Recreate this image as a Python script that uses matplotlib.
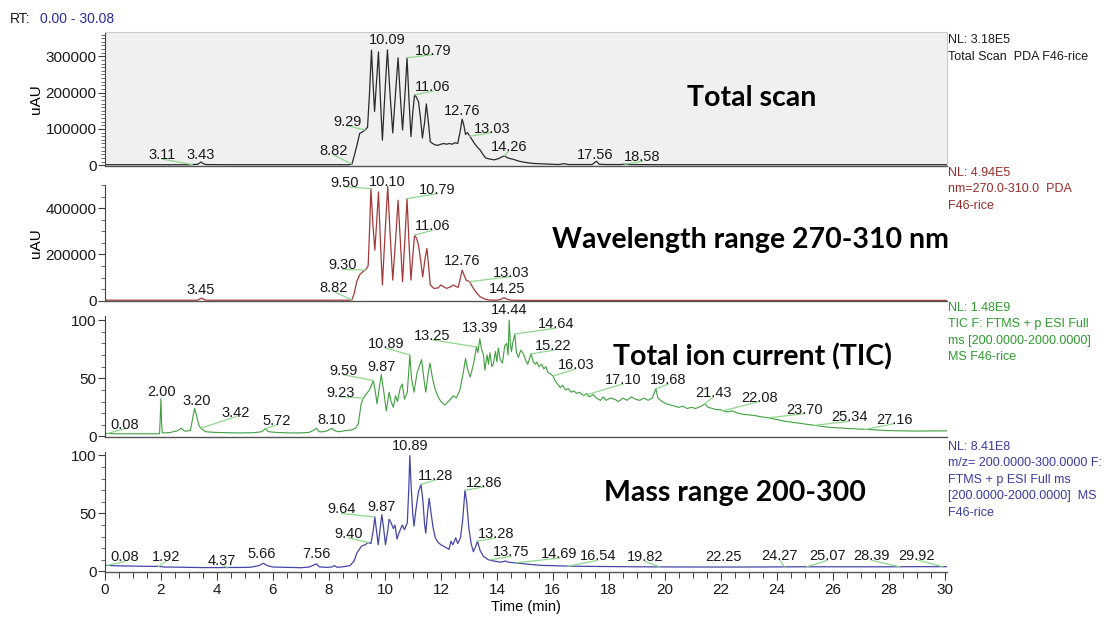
import matplotlib
matplotlib.use("Agg")
import matplotlib.pyplot as plt
from matplotlib.ticker import MultipleLocator, FixedLocator

plt.rcParams['font.family'] = ['Liberation Sans', 'DejaVu Sans']

# ---- panel 1: Total scan (uAU) ----
scan_t = [0, 1, 2, 3.0, 3.11, 3.3, 3.38, 3.43, 3.5, 3.6, 4.5, 6, 7, 8, 8.7, 8.82, 8.9, 9.0,
          9.1, 9.2, 9.29, 9.38, 9.45, 9.52, 9.58, 9.63, 9.7, 9.77, 9.84, 9.91, 10.0, 10.09,
          10.18, 10.28, 10.38, 10.47, 10.55, 10.63, 10.72, 10.79, 10.86, 10.93, 11.0, 11.06,
          11.12, 11.2, 11.27, 11.34, 11.42, 11.48, 11.55, 11.62, 11.7, 11.8, 11.9, 12.0, 12.1,
          12.2, 12.3, 12.4, 12.5, 12.6, 12.68, 12.76, 12.82, 12.88, 12.95, 13.03, 13.1, 13.2,
          13.3, 13.4, 13.5, 13.6, 13.75, 13.9, 14.05, 14.15, 14.26, 14.4, 14.6, 14.8, 15.0,
          15.3, 15.6, 15.9, 16.2, 16.35, 16.45, 16.55, 17.0, 17.4, 17.5, 17.56, 17.65, 17.9,
          18.4, 18.58, 18.8, 20, 30.08]
scan_v = [1.5, 1.5, 1.5, 1.5, 2, 2.5, 6, 9, 5, 2, 1.5, 1.5, 1.5, 1.5, 1.5, 3, 25, 55,
          88, 92, 97, 105, 200, 317, 220, 148, 230, 312, 180, 69, 200, 318,
          200, 89, 200, 296, 190, 97, 200, 296, 180, 79, 150, 194,
          188, 175, 130, 75, 120, 169, 120, 65, 60, 56, 55, 58, 60,
          58, 60, 58, 62, 60, 90, 127, 110, 85, 90, 80, 72, 60,
          50, 42, 30, 20, 17, 15, 18, 22, 26, 20, 16, 11, 8,
          5, 4, 3, 2, 4, 4, 2, 2, 2, 8, 11, 3, 2,
          2, 3, 2, 1.5, 1.5]  # x1000

# ---- panel 2: 270-310 nm (uAU) ----
uv_t = [0, 3.3, 3.4, 3.45, 3.52, 3.6, 8.7, 8.82, 8.9, 9.0, 9.1, 9.2, 9.3, 9.4, 9.45, 9.50,
        9.57, 9.64, 9.7, 9.77, 9.84, 9.91, 10.0, 10.10, 10.18, 10.28, 10.38, 10.47, 10.55,
        10.63, 10.72, 10.79, 10.86, 10.93, 11.0, 11.06, 11.13, 11.2, 11.28, 11.35, 11.43,
        11.50, 11.56, 11.62, 11.75, 11.9, 12.0, 12.1, 12.2, 12.35, 12.45, 12.55, 12.62, 12.7,
        12.76, 12.83, 12.9, 13.03, 13.1, 13.2, 13.3, 13.4, 13.55, 13.7, 14.0, 14.15, 14.25,
        14.35, 14.5, 15, 30.08]
uv_v = [2, 2, 8, 11, 6, 2, 2, 3, 30, 85, 112, 124, 132, 150, 300, 484,
        330, 218, 330, 470, 250, 68, 280, 494, 300, 89, 260, 434, 260,
        82, 280, 441, 250, 89, 200, 283, 270, 240, 170, 103, 180,
        226, 150, 68, 53, 55, 68, 60, 53, 60, 68, 60, 58, 100,
        132, 110, 89, 82, 65, 46, 30, 17, 8, 3, 2, 6, 13,
        7, 2, 1, 1]  # x1000

# ---- panel 3: TIC (%) ----
tic_t = [0.0, 0.08, 0.5, 1.0, 1.5, 1.95, 1.98, 2.00, 2.02, 2.05, 2.3, 2.6, 2.72, 2.85, 3.05,
         3.15, 3.20, 3.27, 3.35, 3.42, 3.6, 3.9, 4.3, 4.8, 5.3, 5.6, 5.72, 5.85, 6.2, 6.6,
         7.0, 7.3, 7.5, 7.56, 7.65, 7.8, 7.95, 8.10, 8.2, 8.35, 8.6, 8.8, 8.95, 9.05, 9.15,
         9.23, 9.35, 9.45, 9.59, 9.66, 9.72, 9.8, 9.87, 9.95, 10.05, 10.15, 10.22, 10.3,
         10.38, 10.45, 10.55, 10.62, 10.7, 10.8, 10.89, 10.95, 11.04, 11.15, 11.31, 11.4,
         11.46, 11.55, 11.61, 11.7, 11.8, 11.9, 12.0, 12.14, 12.3, 12.45, 12.55, 12.68, 12.8,
         12.88, 12.95, 13.05, 13.18, 13.27, 13.32, 13.39, 13.45, 13.52, 13.57, 13.65, 13.7,
         13.75, 13.82, 13.87, 13.95, 14.0, 14.05, 14.12, 14.2, 14.28, 14.35, 14.4, 14.44,
         14.48, 14.52, 14.58, 14.64, 14.7, 14.77, 14.85, 14.95, 15.02, 15.1, 15.18, 15.22,
         15.3, 15.38, 15.43, 15.5, 15.6, 15.68, 15.75, 15.82, 15.9, 16.0, 16.1, 16.2, 16.27,
         16.35, 16.45, 16.55, 16.65, 16.75, 16.85, 16.95, 17.1, 17.2, 17.3, 17.45, 17.55,
         17.7, 17.8, 17.9, 18.05, 18.2, 18.35, 18.5, 18.65, 18.8, 18.95, 19.1, 19.25, 19.4,
         19.55, 19.68, 19.75, 19.9, 20.05, 20.2, 20.35, 20.5, 20.65, 20.8, 20.95, 21.1, 21.3,
         21.43, 21.55, 21.7, 21.85, 22.0, 22.08, 22.25, 22.4, 22.6, 22.8, 23.0, 23.2, 23.4,
         23.7, 24.0, 24.3, 24.6, 24.9, 25.2, 25.5, 25.8, 26.1, 26.4, 26.8, 27.2, 27.6, 28.0,
         28.5, 29.0, 29.5, 30.0, 30.08]
tic_v = [2.0, 2.5, 2.2, 2.3, 2.2, 2.3, 20, 32.5, 12, 3, 3.2, 5, 7, 4.5, 5,
         18, 24, 18, 10, 7, 4, 3.5, 3.2, 3, 3.2, 4, 6.5, 4, 3.3, 3,
         3, 3.5, 6, 7, 4, 4, 5, 7, 5, 4, 5, 5.5, 7, 11, 28,
         33, 37, 40, 48, 38, 28, 42, 53, 40, 22, 38, 30, 25,
         35, 30, 42, 45, 32, 38, 70, 50, 38, 55, 66, 48,
         38, 55, 63, 50, 40, 34, 30, 27, 31, 35, 33, 40, 55,
         67, 58, 51, 64, 77, 72, 84, 75, 70, 57, 70, 62,
         72, 60, 62, 73, 64, 76, 66, 63, 78, 80, 70, 100,
         80, 73, 82, 88, 72, 68, 74, 71, 66, 62, 68, 71,
         64, 62, 64, 60, 62, 58, 60, 55, 54, 52, 47, 44, 42,
         44, 40, 41, 38, 39, 37, 38, 35, 37, 34, 36, 33,
         31, 34, 31, 33, 32, 30, 33, 31, 34, 32, 31, 33, 31,
         33, 41, 33, 30, 28, 27, 26, 25, 26, 24, 25, 24, 26,
         28, 25, 24, 23, 23, 22, 21, 22, 20, 19, 18.5, 18, 17,
         16, 14.5, 13, 12, 11, 10, 9, 8, 7.5, 7, 6.5, 6, 5.5, 5,
         4.8, 4.6, 4.7, 4.8, 4.8]

# ---- panel 4: m/z 200-300 (%) ----
mz_t = [0, 0.08, 0.5, 1.0, 1.5, 1.92, 2.1, 2.5, 3.0, 3.5, 4.0, 4.37, 4.8, 5.2, 5.5, 5.66,
        5.8, 6.0, 6.5, 7.0, 7.3, 7.5, 7.56, 7.65, 7.9, 8.1, 8.2, 8.3, 8.5, 8.75, 8.9, 9.0,
        9.17, 9.3, 9.4, 9.5, 9.58, 9.64, 9.7, 9.76, 9.82, 9.89, 9.95, 10.02, 10.1, 10.15,
        10.22, 10.3, 10.36, 10.43, 10.5, 10.62, 10.7, 10.8, 10.85, 10.89, 10.94, 11.0, 11.04,
        11.1, 11.2, 11.29, 11.36, 11.42, 11.46, 11.52, 11.58, 11.65, 11.72, 11.8, 11.9, 12.0,
        12.15, 12.29, 12.36, 12.43, 12.53, 12.6, 12.7, 12.78, 12.86, 12.92, 13.0, 13.08,
        13.16, 13.25, 13.31, 13.4, 13.52, 13.7, 13.88, 14.0, 14.15, 14.3, 14.4, 14.6, 14.82,
        15.2, 15.6, 16.0, 16.5, 17, 18, 19, 20, 21, 22, 23, 24, 25, 26, 27, 28, 29, 30.08]
mz_v = [5.0, 5.2, 4.8, 4.6, 4.4, 4.3, 3.8, 3.7, 3.5, 3.3, 3.3, 3.4, 3.4, 3.6, 5, 7,
        5, 3.8, 3.5, 3.2, 3.8, 6, 6.5, 4, 3.5, 3.8, 5, 3.5, 4, 5, 9, 16,
        22, 23, 25, 24, 35, 47, 35, 23, 35, 49, 38, 23, 35, 45,
        42, 37, 40, 28, 33, 40, 36, 42, 70, 100, 72, 48, 39,
        52, 69, 75, 60, 40, 33, 50, 63, 50, 38, 29, 25, 23,
        21, 19, 26, 23, 29, 24, 29, 45, 70, 60, 37, 24,
        17, 22, 26, 18, 13, 10, 9, 8.5, 8, 9, 8, 7.5, 7,
        6, 5.2, 5, 4.6, 4.4, 4.2, 4.0, 3.9, 3.8, 3.8, 3.8, 3.9, 4.0, 4.0, 4.0, 4.0, 4.1, 4.1]

# peak labels: text, retention time of the peak, height at the peak
scan_lab = ['3.11', '3.43', '8.82', '9.29', '10.09', '10.79', '11.06', '12.76', '13.03', '14.26', '17.56', '18.58']
scan_pk = [2, 9, 3, 97, 318, 296, 194, 127, 80, 26, 11, 3]
uv_lab = ['3.45', '8.82', '9.30', '9.50', '10.10', '10.79', '11.06', '12.76', '13.03', '14.25']
uv_pk = [11, 3, 132, 484, 494, 441, 283, 132, 82, 13]
tic_lab = ['0.08', '2.00', '3.20', '3.42', '5.72', '8.10', '9.23', '9.59', '9.87', '10.89', '13.25',
           '13.39', '14.44', '14.64', '15.22', '16.03', '17.10', '19.68', '21.43', '22.08', '23.70',
           '25.34', '27.16']
tic_pk = [2.5, 32.5, 24, 7, 6.5, 7, 33, 48, 53, 70, 77, 84, 100, 88, 71, 52, 35, 41, 28, 22, 16, 9.5, 6]
mz_lab = ['0.08', '1.92', '4.37', '5.66', '7.56', '9.40', '9.64', '9.87', '10.89', '11.28', '12.86',
          '13.28', '13.75', '14.69', '16.54', '19.82', '22.25', '24.27', '25.07', '28.39', '29.92']
mz_pk = [5.2, 4.3, 3.4, 7, 6.5, 25, 47, 49, 100, 75, 70, 26, 10, 7.5, 4.5, 3.9, 3.8, 3.9, 4.0, 4.0, 4.1]

# where the label text sits (centre x in min, baseline y in panel units)
scan_pos = [(2.04, 17), (3.4, 17), (8.18, 28), (8.66, 109), (10.09, 333), (11.74, 305), (11.72, 204),
            (12.77, 139), (13.82, 90), (14.43, 39), (17.5, 17), (19.2, 11)]
uv_pos = [(3.43, 29), (8.18, 39), (8.5, 135), (8.57, 493), (10.1, 497), (11.87, 463), (11.71, 305),
          (12.77, 154), (14.5, 104), (14.38, 32)]
tic_pos = [(0.71, 6.6), (2.01, 35), (3.29, 27), (4.68, 17), (6.14, 10), (8.11, 11), (8.43, 34),
           (8.52, 53), (9.89, 56), (10.03, 76), (11.68, 83), (13.41, 90), (14.45, 105), (16.1, 93),
           (16.02, 74), (16.82, 58), (18.5, 45), (20.13, 45), (21.73, 34), (23.38, 30), (25.0, 19.6),
           (26.6, 13), (28.2, 11)]
mz_pos = [(0.71, 8.6), (2.18, 8.6), (4.18, 5.8), (5.61, 11.5), (7.54, 11.5), (8.7, 29), (8.45, 50),
          (9.88, 52), (10.89, 105), (11.82, 79), (13.56, 73), (13.96, 29), (14.5, 13), (16.24, 11.5),
          (17.6, 9.5), (19.3, 8.6), (22.1, 8.6), (24.1, 10), (25.8, 9.5), (27.4, 9.5), (29.0, 10)]

W, H = 1108, 619
fig = plt.figure(figsize=(W / 100, H / 100), dpi=100)
fig.patch.set_facecolor('white')


def px_axes(top, bottom):
    return fig.add_axes([105 / W, 1 - bottom / H, 842 / W, (bottom - top) / H])


def style(ax, ylim, major, minor, bg='white'):
    ax.set_xlim(0, 30.08)
    ax.set_ylim(*ylim)
    ax.set_facecolor(bg)
    ax.yaxis.set_major_locator(FixedLocator(major))
    ax.yaxis.set_minor_locator(MultipleLocator(minor))
    ax.tick_params(axis='y', which='major', length=5, width=0.8, color='#404040',
                   labelsize=11, pad=1, labelcolor='#1a1a1a')
    ax.tick_params(axis='y', which='minor', length=3, width=0.6, color='#505050')
    ax.spines['left'].set_color('#404040')
    ax.spines['bottom'].set_color('#555555')
    ax.spines['left'].set_linewidth(0.8)
    ax.spines['bottom'].set_linewidth(1.0)


def label_peaks(ax, labs, pk, pos, scale=1.0):
    for lab, h, (lx, ly) in zip(labs, pk, pos):
        t = float(lab)
        if abs(lx - t) > 0.15:
            ax.plot([t, lx], [h * scale, ly * scale], color='#8fd68f', lw=0.9,
                    clip_on=False, zorder=2)
        ax.text(lx, ly * scale, lab, ha='center', va='baseline', fontsize=10.5,
                color='#1a1a1a', clip_on=False, zorder=3)


# panel 1
ax1 = px_axes(32, 166)
style(ax1, (-2000, 367000), [0, 100000, 200000, 300000], 10000, bg='#f0f0f0')
for s in ['top', 'right']:
    ax1.spines[s].set_color('#c8c8c8')
ax1.plot(scan_t, [v * 1000 for v in scan_v], color='#2a2a2a', lw=0.9)
label_peaks(ax1, scan_lab, scan_pk, scan_pos, 1000)
ax1.set_ylabel('uAU', fontsize=11, labelpad=2)

# panel 2
ax2 = px_axes(185, 301)
style(ax2, (-1500, 500000), [0, 200000, 400000], 50000)
ax2.plot(uv_t, [v * 1000 for v in uv_v], color='#a33a3a', lw=0.9)
label_peaks(ax2, uv_lab, uv_pk, uv_pos, 1000)
ax2.set_ylabel('uAU', fontsize=11, labelpad=2)

# panel 3
ax3 = px_axes(316, 437)
style(ax3, (-0.5, 103.5), [0, 50, 100], 10)
ax3.plot(tic_t, tic_v, color='#3f9f3f', lw=0.8)
label_peaks(ax3, tic_lab, tic_pk, tic_pos)

# panel 4
ax4 = px_axes(452, 572)
style(ax4, (-0.5, 103), [0, 50, 100], 10)
ax4.plot(mz_t, mz_v, color='#4646a8', lw=0.9)
label_peaks(ax4, mz_lab, mz_pk, mz_pos)

for ax in [ax2, ax3, ax4]:
    ax.spines['top'].set_visible(False)
    ax.spines['right'].set_visible(False)
for ax in [ax1, ax2, ax3]:
    ax.tick_params(axis='x', which='both', bottom=False, labelbottom=False)

ax4.xaxis.set_major_locator(MultipleLocator(2))
ax4.xaxis.set_minor_locator(MultipleLocator(0.5))
ax4.tick_params(axis='x', which='major', length=6, width=0.8, color='#404040',
                labelsize=11, pad=2, labelcolor='#1a1a1a')
ax4.tick_params(axis='x', which='minor', length=4, width=0.7, color='#404040')
ax4.set_xlabel('Time (min)', fontsize=10.5, labelpad=2)

# header and side annotations
fig.text(10 / W, 1 - 19 / H, 'RT:', fontsize=10, va='center', color='#1a1a1a')
fig.text(40 / W, 1 - 19 / H, '0.00 - 30.08', fontsize=10, va='center', color='#2a2aa0')

side = [
    (['NL: 3.18E5', 'Total Scan  PDA F46-rice'], 40, '#1a1a1a'),
    (['NL: 4.94E5', 'nm=270.0-310.0  PDA', 'F46-rice'], 173, '#9a2a2a'),
    (['NL: 1.48E9', 'TIC F: FTMS + p ESI Full', 'ms [200.0000-2000.0000]', 'MS F46-rice'], 308, '#2f9a2f'),
    (['NL: 8.41E8', 'm/z= 200.0000-300.0000 F:', 'FTMS + p ESI Full ms',
      '[200.0000-2000.0000]  MS', 'F46-rice'], 447, '#3a3aa0'),
]
for lines, y0, col in side:
    for i, s in enumerate(lines):
        fig.text(948 / W, 1 - (y0 + i * 16.5) / H, s, fontsize=9.0, va='center', color=col)

titles = [('Total scan', 752, 98), ('Wavelength range 270-310 nm', 750, 240),
          ('Total ion current (TIC)', 752, 357), ('Mass range 200-300', 735, 493)]
for s, x, y in titles:
    fig.text(x / W, 1 - y / H, s, fontsize=20.5, fontweight='bold', ha='center', va='center',
             family=['Lato', 'DejaVu Sans'], color='black')

fig.savefig('out.png', dpi=100)
